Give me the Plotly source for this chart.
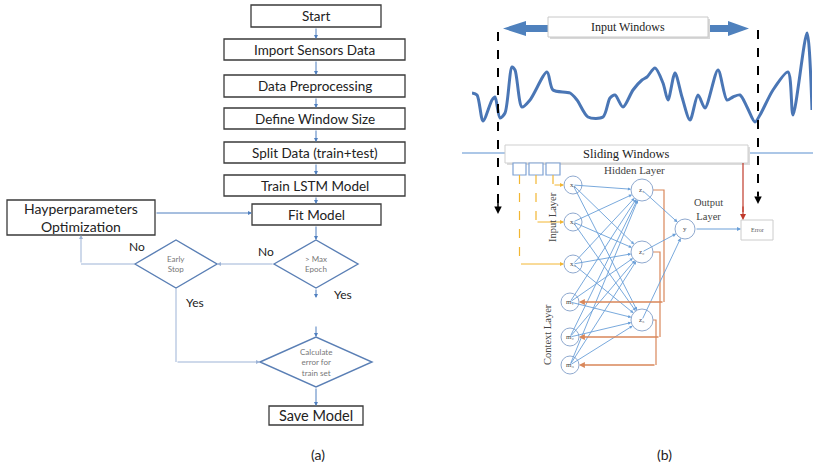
import plotly.graph_objects as go

W, H = 813, 468

# ---------------- data ----------------
process_steps = ["Start", "Import Sensors Data", "Data Preprocessing", "Define Window Size",
                 "Split Data (train+test)", "Train LSTM Model", "Fit Model"]
decision_labels = ["> Max<br>Epoch", "Early<br>Stop", "Calculate<br>error for<br>train set"]
hyper_label = "Hayperparameters<br>Optimization"
end_label = "Save Model"
branch_labels = ["No", "Yes", "No", "Yes"]
panel_labels = ["(a)", "(b)"]
input_nodes = ["x₁", "x₂", "x₃"]
hidden_nodes = ["z₁", "z₂", "z₃"]
context_nodes = ["m₁", "m₂", "m₃"]
output_node = "y"
layer_labels = ["Input Layer", "Hidden Layer", "Output<br>Layer", "Context Layer"]
window_labels = ["Input Windows", "Sliding Windows", "Error"]

# sensor signal (time index, amplitude)
wave_t = [0, 5, 11, 20, 23, 28, 33, 40, 43, 50, 58, 75, 81, 98, 105, 116, 131, 138, 143, 151,
          161, 170, 175, 183, 191, 196, 203, 210, 218, 226, 233, 246, 255, 261, 268, 275, 283,
          288, 301, 316, 321, 335, 340]
wave_a = [32, 30, 4, 25, 28, 7, 12, 58, 55, 18, 25, 53, 35, 32, 25, 8, 8, 27, 30, 18,
          35, 45, 48, 57, 42, 25, 52, 28, 5, 30, 17, 55, 25, 28, 30, 18, 3,
          10, 35, 53, 10, 92, 15]

# ---------------- layout geometry ----------------
step_boxes = [(251, 5, 381, 27), (224, 39, 405, 60), (224, 75, 405, 97), (224, 108, 405, 129),
              (224, 142, 405, 163), (224, 175, 405, 196), (252, 204, 381, 225)]
hyper_box = (7, 200, 155, 235)
save_box = (269, 406, 363, 425)
diamonds = [(316, 264, 42, 24), (176, 264, 41, 24), (316, 362, 56, 25)]

BOX_LINE = "#3a3a3a"
ARROW = "#4f7fbf"
CONN = "#9db3d6"
DIA = "#5a7fb5"
FONT = "Lato"
SERIF = "Liberation Serif"

fig = go.Figure()
shapes = []
ann = []


def rect(b, line=BOX_LINE, width=1.3, fill="white"):
    shapes.append(dict(type="rect", x0=b[0], y0=b[1], x1=b[2], y1=b[3], xref="x", yref="y",
                       line=dict(color=line, width=width), fillcolor=fill, layer="above"))


def seg(pts, color, width=1, dash="solid"):
    path = "M " + " L ".join(f"{x},{y}" for x, y in pts)
    shapes.append(dict(type="path", path=path, xref="x", yref="y",
                       line=dict(color=color, width=width, dash=dash), layer="above"))


def arrow(x0, y0, x1, y1, color=ARROW, width=1, head=2, size=1, standoff=0):
    ann.append(dict(x=x1, y=y1, ax=x0, ay=y0, xref="x", yref="y", axref="x", ayref="y",
                    showarrow=True, arrowhead=head, arrowsize=size, arrowwidth=width,
                    arrowcolor=color, standoff=standoff, text=""))


def text(x, y, s, size=13, color="#222", family=FONT, angle=0, **kw):
    ann.append(dict(x=x, y=y, xref="x", yref="y", text=s, showarrow=False,
                    font=dict(size=size, color=color, family=family), textangle=angle, **kw))


# ---------------- panel (a): flowchart ----------------
for b, lab in zip(step_boxes, process_steps):
    rect(b)
    text((b[0] + b[2]) / 2, (b[1] + b[3]) / 2, lab, size=13.5)
for i in range(len(step_boxes) - 1):
    arrow(316, step_boxes[i][3], 316, step_boxes[i + 1][1], head=2, size=0.8)

rect(hyper_box)
text((hyper_box[0] + hyper_box[2]) / 2, (hyper_box[1] + hyper_box[3]) / 2, hyper_label, size=14)
arrow(hyper_box[2], 213, step_boxes[-1][0], 213, head=2, size=0.8)

for (cx, cy, hw, hh), lab in zip(diamonds, decision_labels):
    shapes.append(dict(type="path", xref="x", yref="y",
                       path=f"M {cx-hw},{cy} L {cx},{cy-hh} L {cx+hw},{cy} L {cx},{cy+hh} Z",
                       line=dict(color=DIA, width=1.4), fillcolor="white", layer="above"))
    text(cx, cy, lab, size=8, color="#777")

# fit model -> max epoch
arrow(316, 225, 316, 240, head=2, size=0.8)
# max epoch -> early stop (No)
arrow(274, 264, 217, 264, color=CONN, head=2, size=0.8)
# early stop -> hyper (No)
seg([(135, 264), (81, 264)], CONN)
arrow(81, 264, 81, 235, color=CONN, head=2, size=0.8)
# max epoch -> down (Yes)
arrow(316, 288, 316, 298, head=2, size=0.8)
arrow(316, 325, 316, 337, head=2, size=0.8)
# early stop yes -> calculate
seg([(176, 288), (176, 362)], CONN)
arrow(176, 362, 260, 362, color=CONN, head=2, size=0.8)
# calculate -> save
arrow(316, 387, 316, 406, head=2, size=0.8)
rect(save_box)
text((save_box[0] + save_box[2]) / 2, (save_box[1] + save_box[3]) / 2, end_label, size=14.5)

text(266, 251, branch_labels[0], size=12)
text(343, 294, branch_labels[1], size=12)
text(137, 246, branch_labels[2], size=12)
text(195, 302, branch_labels[3], size=12)

text(318, 454, panel_labels[0], size=14)
text(664, 454, panel_labels[1], size=14)

# ---------------- panel (b) ----------------
# Input windows double arrow
BLU = "#4f81bd"
shapes.append(dict(type="path", xref="x", yref="y", fillcolor=BLU, line=dict(width=0),
                   path="M 503,28.5 L 526,21 L 526,25 L 728,25 L 728,21 L 749,28.5 L 728,36 "
                        "L 728,32 L 526,32 L 526,36 Z", layer="above"))
shapes.append(dict(type="rect", xref="x", yref="y", x0=550, y0=19, x1=710, y1=39,
                   fillcolor="#d8d8d8", line=dict(width=0), layer="above"))
rect((548, 17, 708, 37), line="#c8c8c8", width=1)
text(628, 27, window_labels[0], size=12, family=SERIF)

# horizontal timeline
seg([(462, 153), (813, 153)], "#5b8fd0", 1.2)

# dashed window boundaries
seg([(498, 32), (498, 206)], "black", 2, "dash")
arrow(498, 200, 498, 214, color="black", head=2, width=1.5, size=1)
seg([(758, 30), (758, 196)], "black", 2, "dash")
arrow(758, 190, 758, 204, color="black", head=2, width=1.5, size=1)

# sliding windows box
shapes.append(dict(type="rect", xref="x", yref="y", x0=507, y0=147, x1=750, y1=165,
                   fillcolor="#dcdcdc", line=dict(width=0), layer="above"))
rect((505, 145, 748, 163), line="#cfcfcf", width=1)
text(626, 154, window_labels[1], size=12.5, family=SERIF)

# small input squares
squares = [(513, 163, 526, 175), (529, 163, 543, 175), (546, 163, 560, 175)]
for s in squares:
    rect(s, line="#7fa2d4", width=1.2)

IN_X, CT_X, HD_X = 573, 570, 642
in_y = [185, 222, 264]
ct_y = [302, 337, 365]
hd_y = [190, 252, 320]
out_xy = (685, 229)
R_IN, R_HD = 9, 11

YEL = "#f2b632"
for s, ny in zip(squares[::-1], in_y):
    sx = (s[0] + s[2]) / 2
    seg([(sx, 175), (sx, ny)], YEL, 1.2, "dash")
    arrow(sx, ny, IN_X - R_IN, ny, color=YEL, head=2, size=0.8)

# blue connections input/context -> hidden
LBLU = "#6a9fd8"
srcs = [(IN_X, y) for y in in_y] + [(CT_X, y) for y in ct_y]
for sx, sy in srcs:
    for hy in hd_y:
        arrow(sx, sy, HD_X, hy, color=LBLU, width=0.9, head=2, size=0.7, standoff=R_HD)
for hy in hd_y:
    arrow(HD_X, hy, out_xy[0], out_xy[1], color=LBLU, width=0.9, head=2, size=0.8, standoff=10)

# orange feedback (hidden -> context)
ORG = "#d9875a"
fb_x = [664, 660, 656]
for hy, cy, fx in zip(hd_y, ct_y, fb_x):
    seg([(HD_X + R_HD, hy), (fx, hy), (fx, cy)], ORG, 1.2)
    arrow(fx, cy, CT_X, cy, color=ORG, head=2, size=0.9, width=1.3, standoff=R_IN)

# nodes
def node(x, y, r, lab):
    shapes.append(dict(type="circle", xref="x", yref="y", x0=x - r, y0=y - r, x1=x + r, y1=y + r,
                       line=dict(color="#8fa9cf", width=1), fillcolor="white", layer="above"))
    text(x, y, lab, size=7, color="#444", family=SERIF)

for y, lab in zip(in_y, input_nodes):
    node(IN_X, y, R_IN, lab)
for y, lab in zip(ct_y, context_nodes):
    node(CT_X, y, R_IN, lab)
for y, lab in zip(hd_y, hidden_nodes):
    node(HD_X, y, R_HD, lab)
node(out_xy[0], out_xy[1], 10, output_node)

# output -> error, target -> error
err_box = (741, 220, 773, 240)
arrow(695, 229, err_box[0], 229, color=LBLU, head=2, size=0.8, width=1)
rect(err_box, line="#cccccc", width=1)
text(757, 230, window_labels[2], size=6, color="#555", family=SERIF)
seg([(743, 163), (743, 212)], "#c0392b", 1.2)
arrow(743, 205, 743, 220, color="#c0392b", head=2, size=1, width=1.2)

# layer labels
text(552, 217, layer_labels[0], size=10.5, family=SERIF, color="#444", angle=-90)
text(634, 170, layer_labels[1], size=11, family=SERIF, color="#444")
text(708, 209, layer_labels[2], size=10.5, family=SERIF, color="#444")
text(547, 335, layer_labels[3], size=10.5, family=SERIF, color="#444", angle=-90)

# signal
fig.add_trace(go.Scatter(x=wave_t, y=wave_a, mode="lines", xaxis="x2", yaxis="y2",
                         line=dict(color="#4a76b5", width=3, shape="spline", smoothing=0.8),
                         hoverinfo="skip", showlegend=False))
# dummy trace on main axes
fig.add_trace(go.Scatter(x=[0], y=[0], mode="markers", marker=dict(opacity=0), showlegend=False,
                         hoverinfo="skip"))

fig.update_layout(
    width=W, height=H, margin=dict(l=0, r=0, t=0, b=0),
    paper_bgcolor="white", plot_bgcolor="rgba(0,0,0,0)",
    xaxis=dict(range=[0, W], visible=False, domain=[0, 1], fixedrange=True),
    yaxis=dict(range=[H, 0], visible=False, domain=[0, 1], fixedrange=True),
    xaxis2=dict(range=[0, 340], visible=False, domain=[472 / W, 812 / W], anchor="y2"),
    yaxis2=dict(range=[0, 95], visible=False, domain=[1 - 125 / H, 1 - 30 / H], anchor="x2"),
    shapes=shapes, annotations=ann, showlegend=False,
)
fig.write_html("out.html", config={"displayModeBar": False},
               post_script="document.body.style.margin='0';document.body.style.padding='0';"
                           "document.documentElement.style.overflow='hidden';")
